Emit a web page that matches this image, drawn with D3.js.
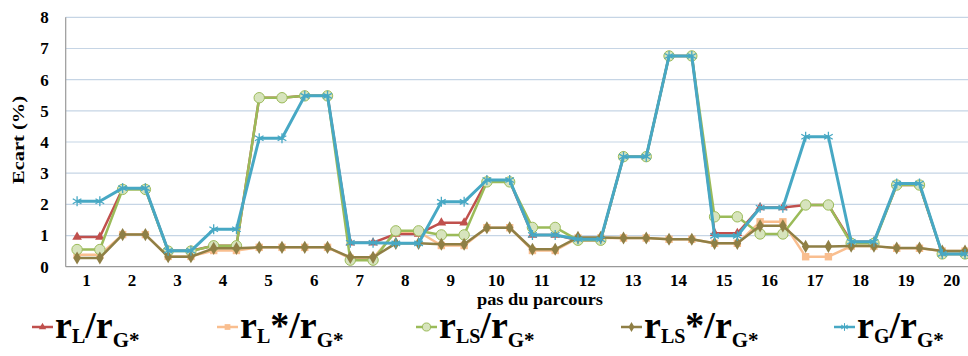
<!DOCTYPE html>
<html><head><meta charset="utf-8">
<script src="https://cdn.jsdelivr.net/npm/d3@7"></script>
<style>
html,body{margin:0;padding:0;background:#fff;}
svg{display:block;}
text{font-family:"Liberation Serif","Times New Roman",serif;font-weight:bold;}
</style></head>
<body>
<svg id="chart" width="968" height="356"></svg>
<script>
// ---- data ----
const steps = d3.range(1, 21).map(String);
const yTicks = [0,1,2,3,4,5,6,7,8];
const rL_rG   = [0.95,0.95, 2.5,2.5, 0.51,0.51, 0.67,0.67, 5.42,5.42, 5.48,5.48, 0.77,0.77, 1.05,1.05, 1.41,1.41, 2.75,2.75,
                 1.02,1.02, 0.85,0.85, 3.53,3.53, 6.76,6.76, 1.07,1.07, 1.9,1.9, 1.98,1.98, 0.8,0.8, 2.62,2.62, 0.41,0.41];
const rLs_rG  = [0.38,0.38, 1.03,1.03, 0.33,0.33, 0.52,0.52, 0.62,0.62, 0.62,0.62, 0.27,0.27, 1.12,1.12, 0.68,0.68, 1.25,1.25,
                 0.52,0.52, 0.92,0.92, 0.92,0.92, 0.88,0.88, 0.75,0.75, 1.44,1.44, 0.32,0.32, 0.66,0.66, 0.59,0.59, 0.5,0.5];
const rLS_rG  = [0.55,0.55, 2.48,2.48, 0.5,0.5, 0.67,0.67, 5.42,5.42, 5.48,5.48, 0.21,0.21, 1.15,1.15, 1.02,1.02, 2.72,2.72,
                 1.26,1.26, 0.85,0.85, 3.53,3.53, 6.76,6.76, 1.6,1.6, 1.05,1.05, 1.98,1.98, 0.75,0.75, 2.62,2.62, 0.41,0.41];
const rLSs_rG = [0.28,0.28, 1.03,1.03, 0.32,0.32, 0.59,0.59, 0.62,0.62, 0.62,0.62, 0.3,0.3, 0.75,0.75, 0.72,0.72, 1.25,1.25,
                 0.56,0.56, 0.94,0.94, 0.92,0.92, 0.88,0.88, 0.75,0.75, 1.31,1.31, 0.65,0.65, 0.66,0.66, 0.6,0.6, 0.5,0.5];
const rG_rG   = [2.1,2.1, 2.52,2.52, 0.51,0.51, 1.2,1.2, 4.12,4.12, 5.48,5.48, 0.77,0.77, 0.75,0.75, 2.08,2.08, 2.78,2.78,
                 1.02,1.02, 0.88,0.88, 3.53,3.53, 6.76,6.76, 0.99,0.99, 1.89,1.89, 4.17,4.17, 0.8,0.8, 2.67,2.67, 0.41,0.41];

const series = [
  {values: rL_rG,   color:"#c0504d", sym:d3.symbolTriangle, size:40, fill:"#c0504d", stroke:"none", w:2.5, sub1:"L", mid:"", sub2:"G*"},
  {values: rLs_rG,  color:"#f9be8f", sym:d3.symbolSquare,   size:55, fill:"#f9be8f", stroke:"none", w:2.5, sub1:"L", mid:"*", sub2:"G*"},
  {values: rLS_rG,  color:"#9bbb59", sym:d3.symbolCircle,   size:85, fill:"#d7e4bd", stroke:"#9bbb59", w:2.5, sub1:"LS", mid:"", sub2:"G*"},
  {values: rLSs_rG, color:"#8f7f45", sym:d3.symbolDiamond,  size:50, fill:"#8f7f45", stroke:"none", w:2.5, sub1:"LS", mid:"*", sub2:"G*"},
  {values: rG_rG,   color:"#47a8c4", sym:d3.symbolAsterisk, size:70, fill:"none", stroke:"#47a8c4", w:3, sub1:"G", mid:"", sub2:"G*"}
];

const svg = d3.select("#chart");
const pL = 65.7, pR = 976.4, pT = 17.3, pB = 266.7;
const x = d3.scalePoint().domain(d3.range(40)).range([pL, pR]).padding(0.5);
const xs = d3.scaleBand().domain(steps).range([pL, pR]);
const y = d3.scaleLinear().domain([0, 8]).range([pB, pT]);

// gridlines
svg.append("g").selectAll("line").data(yTicks.filter(d => d > 0)).join("line")
  .attr("x1", pL).attr("x2", 968).attr("y1", d => y(d)).attr("y2", d => y(d))
  .attr("stroke", "#c6d5e5").attr("stroke-width", 1.2);

// axes lines
svg.append("line").attr("x1", pL).attr("x2", pL).attr("y1", pT).attr("y2", pB)
  .attr("stroke", "#999").attr("stroke-width", 1.2);
svg.append("line").attr("x1", pL).attr("x2", 968).attr("y1", pB).attr("y2", pB)
  .attr("stroke", "#999").attr("stroke-width", 1.2);

// y tick labels
const ya = svg.append("g").attr("transform", `translate(${pL - 17},0)`)
  .call(d3.axisLeft(y).tickValues(yTicks).tickSize(0).tickPadding(0).tickFormat(d3.format("d")));
ya.select(".domain").remove();
ya.selectAll("text").attr("font-size", 17).attr("fill", "#000")
  .style("font-family", '"Liberation Serif",serif').style("font-weight", "bold");

// x tick labels
const xa = svg.append("g").attr("transform", `translate(0,${pB})`)
  .call(d3.axisBottom(xs).tickSize(0).tickPadding(7));
xa.select(".domain").remove();
xa.selectAll("text").attr("font-size", 17).attr("fill", "#000").attr("dx", -2)
  .style("font-family", '"Liberation Serif",serif').style("font-weight", "bold");

// axis titles
svg.append("text").attr("x", 540).attr("y", 305).attr("text-anchor", "middle")
  .attr("font-size", 17).attr("textLength", 126).attr("lengthAdjust", "spacingAndGlyphs")
  .text("pas du parcours");
svg.append("text").attr("transform", "translate(24,140) rotate(-90)").attr("text-anchor", "middle")
  .attr("font-size", 17).attr("textLength", 88).attr("lengthAdjust", "spacingAndGlyphs")
  .text("Ecart  (%)");

// lines + markers
const line = d3.line().x((d, i) => x(i)).y(d => y(d));
series.forEach(s => {
  const g = svg.append("g");
  g.append("path").datum(s.values).attr("d", line).attr("fill", "none")
    .attr("stroke", s.color).attr("stroke-width", s.w).attr("stroke-linejoin", "round");
  g.selectAll("path.m").data(s.values).join("path").attr("class", "m")
    .attr("transform", (d, i) => `translate(${x(i)},${y(d)})`)
    .attr("d", d3.symbol(s.sym, s.size))
    .attr("fill", s.fill).attr("stroke", s.stroke).attr("stroke-width", s.sym === d3.symbolAsterisk ? 1.3 : 1);
});

// legend
const legX = [32, 217, 416, 621, 834];
series.forEach((s, k) => {
  const g = svg.append("g").attr("transform", `translate(${legX[k]},327)`);
  g.append("line").attr("x1", 0).attr("x2", 21).attr("stroke", s.color).attr("stroke-width", 2.5);
  g.append("path").attr("transform", "translate(10.5,0)").attr("d", d3.symbol(s.sym, s.size * 0.6))
    .attr("fill", s.fill).attr("stroke", s.stroke).attr("stroke-width", 1);
  const t = g.append("text").attr("x", 23).attr("y", 11).attr("fill", "#000");
  t.append("tspan").attr("font-size", 38).text("r");
  t.append("tspan").attr("font-size", 20).attr("dy", 5).text(s.sub1);
  t.append("tspan").attr("font-size", 38).attr("dy", -5).text(s.mid + "/");
  t.append("tspan").attr("font-size", 38).text("r");
  t.append("tspan").attr("font-size", 21).attr("dy", 9).text(s.sub2);
});
</script>
</body></html>
